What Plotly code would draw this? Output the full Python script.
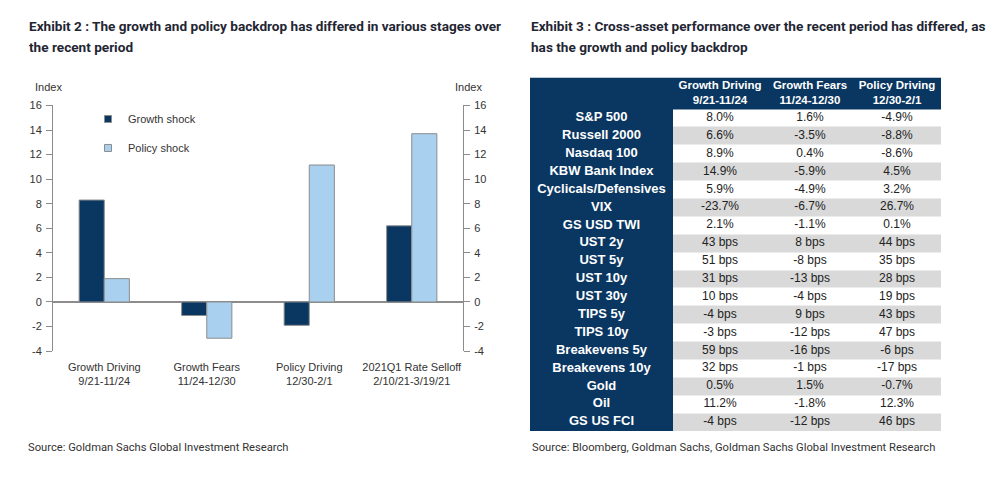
import plotly.graph_objects as go

# ---------------- data: left chart ----------------
categories = ["Growth Driving<br>9/21-11/24", "Growth Fears<br>11/24-12/30",
              "Policy Driving<br>12/30-2/1", "2021Q1 Rate Selloff<br>2/10/21-3/19/21"]
growth_shock = [8.3, -1.1, -1.9, 6.2]
policy_shock = [1.9, -2.95, 11.15, 13.7]
y_ticks = [-4, -2, 0, 2, 4, 6, 8, 10, 12, 14, 16]

# ---------------- data: right table ----------------
table_headers = ["", "Growth Driving<br>9/21-11/24", "Growth Fears<br>11/24-12/30",
                 "Policy Driving<br>12/30-2/1"]
assets = ["S&P 500", "Russell 2000", "Nasdaq 100", "KBW Bank Index", "Cyclicals/Defensives",
          "VIX", "GS USD TWI", "UST 2y", "UST 5y", "UST 10y", "UST 30y", "TIPS 5y",
          "TIPS 10y", "Breakevens 5y", "Breakevens 10y", "Gold", "Oil", "GS US FCI"]
growth_driving = ["8.0%", "6.6%", "8.9%", "14.9%", "5.9%", "-23.7%", "2.1%", "43 bps", "51 bps",
                  "31 bps", "10 bps", "-4 bps", "-3 bps", "59 bps", "32 bps", "0.5%", "11.2%", "-4 bps"]
growth_fears = ["1.6%", "-3.5%", "0.4%", "-5.9%", "-4.9%", "-6.7%", "-1.1%", "8 bps", "-8 bps",
                "-13 bps", "-4 bps", "9 bps", "-12 bps", "-16 bps", "-1 bps", "1.5%", "-1.8%", "-12 bps"]
policy_driving = ["-4.9%", "-8.8%", "-8.6%", "4.5%", "3.2%", "26.7%", "0.1%", "44 bps", "35 bps",
                  "28 bps", "19 bps", "43 bps", "47 bps", "-6 bps", "-17 bps", "-0.7%", "12.3%", "46 bps"]

NAVY = "#0a3762"
LIGHT = "#a9d0ee"
GREY = "#d9d9d9"
AXIS = "#8c8c8c"
TXT = "#333333"
TITLE = "#1f2633"
SANS = "Liberation Sans, Arial, sans-serif"
TF = "Roboto, Lato, sans-serif"

W, H = 1000, 478
def py(p):
    return 1 - p / H

fig = go.Figure()

# ---------------- left chart ----------------
fig.add_trace(go.Bar(x=categories, y=growth_shock, name="Growth shock", marker_color=NAVY,
                     marker_line=dict(color=AXIS, width=1), showlegend=False, hoverinfo="skip"))
fig.add_trace(go.Bar(x=categories, y=policy_shock, name="Policy shock", marker_color=LIGHT,
                     marker_line=dict(color=AXIS, width=1), showlegend=False, hoverinfo="skip"))
fig.add_trace(go.Scatter(x=categories, y=policy_shock, yaxis="y2", mode="markers",
                         marker=dict(opacity=0), showlegend=False, hoverinfo="skip"))
fig.add_trace(go.Scatter(x=[None], y=[None], mode="markers", name="Growth shock", legendgroup="g",
                         marker=dict(symbol="square", size=7, color=NAVY, line=dict(color=AXIS, width=1))))
fig.add_trace(go.Scatter(x=[None], y=[None], mode="markers", name="Policy shock", legendgroup="p",
                         marker=dict(symbol="square", size=7, color=LIGHT, line=dict(color=AXIS, width=1))))

# ---------------- right table (heatmap cells + text) ----------------
col_widths = [143, 94, 86, 88]
header_h = 32.4
row_h = 18.35
x_edges = [0]
for w in col_widths:
    x_edges.append(x_edges[-1] + w)
x_centers = [(x_edges[i] + x_edges[i + 1]) / 2 for i in range(len(col_widths))]
n = len(assets)
y_edges = [0, header_h] + [header_h + row_h * (i + 1) for i in range(n)]
y_centers = [(y_edges[i] + y_edges[i + 1]) / 2 for i in range(n + 1)]
z = [[2, 2, 2, 2]] + [[2] + [i % 2] * 3 for i in range(n)]
fig.add_trace(go.Heatmap(x=x_edges, y=y_edges, z=z, xaxis="x3", yaxis="y3", zmin=0, zmax=2,
                         colorscale=[[0, "white"], [0.5, GREY], [1, NAVY]], showscale=False,
                         hoverinfo="skip"))
fig.add_trace(go.Scatter(x=x_centers[1:], y=[y_centers[0]] * 3, text=table_headers[1:], mode="text",
                         xaxis="x3", yaxis="y3", showlegend=False, hoverinfo="skip",
                         textfont=dict(family=SANS, size=11.5, color="white", weight="bold")))
fig.add_trace(go.Scatter(x=[x_centers[0]] * n, y=y_centers[1:], text=assets, mode="text",
                         xaxis="x3", yaxis="y3", showlegend=False, hoverinfo="skip",
                         textfont=dict(family=SANS, size=13, color="white", weight="bold")))
for ci, col in enumerate([growth_driving, growth_fears, policy_driving]):
    fig.add_trace(go.Scatter(x=[x_centers[ci + 1]] * n, y=y_centers[1:], text=col, mode="text",
                             xaxis="x3", yaxis="y3", showlegend=False, hoverinfo="skip",
                             textfont=dict(family=SANS, size=12, color="#222222")))

tick_text = [str(t) for t in y_ticks]
fig.update_layout(
    width=W, height=H,
    margin=dict(l=0, r=0, t=0, b=0),
    paper_bgcolor="white", plot_bgcolor="white",
    barmode="group", bargap=0.51, bargroupgap=0,
    font=dict(family=SANS, size=11, color=TXT),
    xaxis=dict(domain=[53 / W, 463 / W], type="category", showline=False, ticks="",
               showgrid=False, tickfont=dict(size=11, color=TXT), fixedrange=True,
               ticklabelstandoff=8),
    yaxis=dict(domain=[py(354), py(102)], range=[-4, 16], tickvals=y_ticks, ticktext=tick_text,
               showgrid=False, showline=True, linecolor=AXIS, linewidth=1, ticks="outside",
               ticklen=6, tickcolor=AXIS, zeroline=True, zerolinecolor=AXIS, zerolinewidth=1.5,
               tickfont=dict(size=11, color=TXT), ticklabelstandoff=2, fixedrange=True),
    yaxis2=dict(overlaying="y", side="right", range=[-4, 16], tickvals=y_ticks, ticktext=tick_text,
                showgrid=False, showline=True, linecolor=AXIS, linewidth=1, ticks="outside",
                ticklen=6, tickcolor=AXIS, zeroline=False, tickfont=dict(size=11, color=TXT),
                ticklabelstandoff=2, fixedrange=True),
    xaxis3=dict(domain=[530 / W, 941 / W], range=[0, x_edges[-1]], visible=False, anchor="y3",
                fixedrange=True),
    yaxis3=dict(domain=[py(73.3 + y_edges[-1]), py(73.3)], range=[y_edges[-1], 0], visible=False,
                anchor="x3", fixedrange=True),
    legend=dict(x=88 / W, y=py(101), xanchor="left", yanchor="top", bgcolor="rgba(0,0,0,0)",
                font=dict(size=11, color=TXT), tracegroupgap=10, itemclick=False),
    showlegend=True,
)

def add_text(text, x, y, size, family, color=TITLE, weight="normal"):
    fig.add_annotation(text=text, x=x / W, y=py(y), xref="paper", yref="paper",
                       xanchor="left", yanchor="middle", showarrow=False,
                       font=dict(family=family, size=size, color=color, weight=weight))

add_text("Exhibit 2 : The growth and policy backdrop has differed in various stages over", 27, 21, 13.6, TF,
         weight="bold")
add_text("the recent period", 27, 42, 13.6, TF, weight="bold")
add_text("Exhibit 3 : Cross-asset performance over the recent period has differed, as", 529, 21, 13.6, TF,
         weight="bold")
add_text("has the growth and policy backdrop", 529, 42, 13.6, TF, weight="bold")
add_text("Source: Goldman Sachs Global Investment Research", 26, 453, 11.2, TF, color=TXT)
add_text("Source: Bloomberg, Goldman Sachs, Goldman Sachs Global Investment Research", 530, 453, 11.2, TF,
         color=TXT)
add_text("Index", 33, 83, 11, SANS, color=TXT)
add_text("Index", 453, 83, 11, SANS, color=TXT)

fig.write_html("out.html", config={"displayModeBar": False},
               post_script="document.body.style.margin='0';")
